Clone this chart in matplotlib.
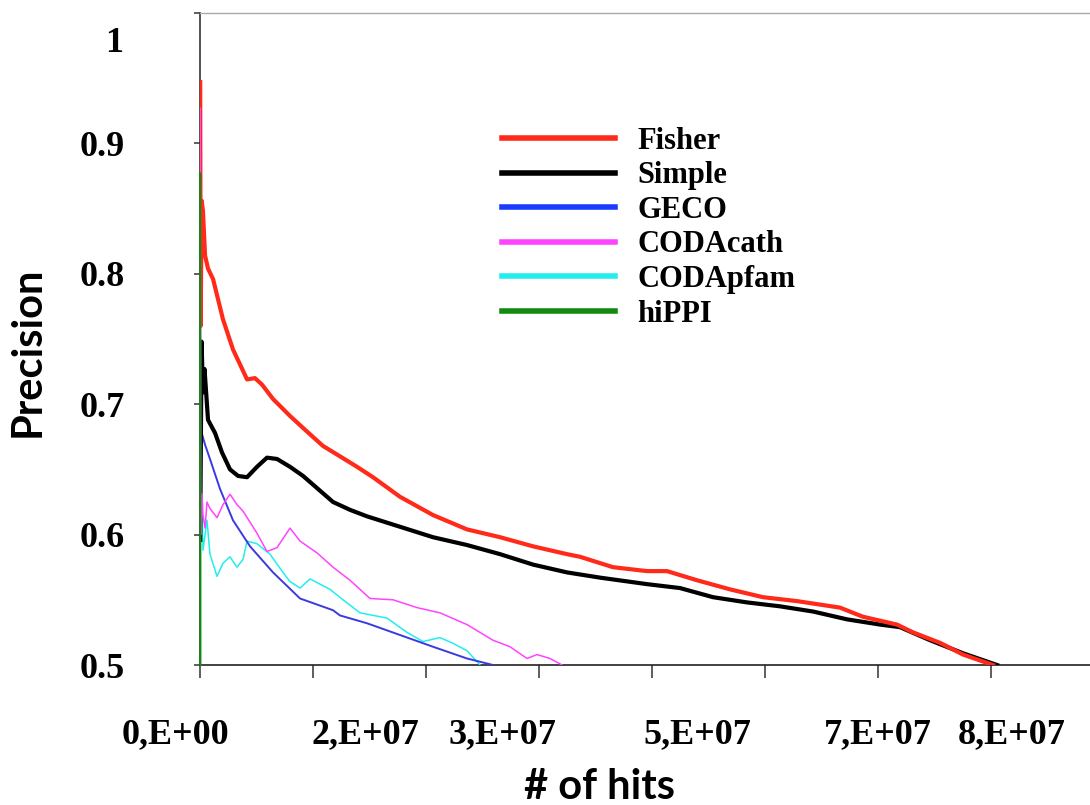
import numpy as np
import matplotlib
matplotlib.use("Agg")
import matplotlib.pyplot as plt

# number of hits in units of 1e7, precision
fisher_x = [0.002, 0.006, 0.0165, 0.029, 0.049, 0.078, 0.127, 0.224, 0.321, 0.458, 0.535, 0.604,
            0.711, 0.876, 1.042, 1.197, 1.363, 1.528, 1.684, 1.947, 2.268, 2.599, 2.921, 3.242,
            3.573, 3.699, 4.021, 4.352, 4.546, 4.838, 5.160, 5.481, 5.812, 6.230, 6.454, 6.785,
            6.941, 7.204, 7.428, 7.720]
fisher_y = [0.947, 0.760, 0.856, 0.848, 0.814, 0.804, 0.796, 0.765, 0.742, 0.719, 0.720, 0.715,
            0.704, 0.691, 0.679, 0.668, 0.660, 0.652, 0.644, 0.629, 0.615, 0.604, 0.598, 0.591,
            0.585, 0.583, 0.575, 0.572, 0.572, 0.565, 0.558, 0.552, 0.549, 0.544, 0.537, 0.531,
            0.525, 0.517, 0.508, 0.500]

simple_x = [0.002, 0.015, 0.029, 0.044, 0.078, 0.146, 0.214, 0.292, 0.370, 0.458, 0.555, 0.652,
            0.750, 0.876, 1.003, 1.295, 1.460, 1.626, 1.947, 2.268, 2.599, 2.921, 3.242, 3.573,
            3.894, 4.352, 4.673, 4.994, 5.325, 5.646, 5.968, 6.299, 6.620, 6.815, 7.107, 7.428,
            7.759]
simple_y = [0.596, 0.748, 0.709, 0.727, 0.688, 0.678, 0.663, 0.650, 0.645, 0.644, 0.652, 0.659,
            0.658, 0.652, 0.645, 0.625, 0.619, 0.614, 0.606, 0.598, 0.592, 0.585, 0.577, 0.571,
            0.567, 0.562, 0.559, 0.552, 0.548, 0.545, 0.541, 0.535, 0.531, 0.529, 0.519, 0.509,
            0.500]

geco_x = [0.0165, 0.049, 0.097, 0.195, 0.321, 0.487, 0.711, 0.974, 1.295, 1.363, 1.626, 1.947,
          2.268, 2.599, 2.852]
geco_y = [0.678, 0.669, 0.658, 0.635, 0.611, 0.591, 0.571, 0.551, 0.542, 0.538, 0.532, 0.523,
          0.514, 0.505, 0.500]

cath_x = [0.002, 0.008, 0.019, 0.029, 0.049, 0.068, 0.097, 0.166, 0.224, 0.292, 0.360, 0.419,
          0.555, 0.652, 0.750, 0.876, 0.974, 1.139, 1.295, 1.460, 1.655, 1.879, 2.113, 2.336,
          2.599, 2.852, 3.018, 3.183, 3.281, 3.407, 3.524]
cath_y = [0.927, 0.600, 0.631, 0.615, 0.605, 0.625, 0.620, 0.613, 0.623, 0.631, 0.623, 0.618,
          0.601, 0.587, 0.590, 0.605, 0.595, 0.586, 0.575, 0.565, 0.551, 0.550, 0.544, 0.540,
          0.531, 0.519, 0.514, 0.505, 0.508, 0.505, 0.500]

pfam_x = [0.005, 0.019, 0.029, 0.068, 0.097, 0.166, 0.224, 0.292, 0.360, 0.419, 0.458, 0.555,
          0.681, 0.808, 0.876, 0.974, 1.071, 1.168, 1.266, 1.392, 1.558, 1.820, 2.015, 2.171,
          2.336, 2.453, 2.599, 2.726]
pfam_y = [0.629, 0.625, 0.588, 0.611, 0.585, 0.568, 0.578, 0.583, 0.575, 0.581, 0.595, 0.593,
          0.585, 0.571, 0.564, 0.559, 0.566, 0.562, 0.558, 0.550, 0.540, 0.536, 0.525, 0.518,
          0.521, 0.517, 0.511, 0.500]

hippi_x = [0.002, 0.003, 0.004]
hippi_y = [0.877, 0.700, 0.500]

x_labels = ["0,E+00", "2,E+07", "3,E+07", "5,E+07", "7,E+07", "8,E+07"]
x_label_pos = [-0.243, 1.606, 2.94, 4.838, 6.601, 7.903]
y_ticks = [0.5, 0.6, 0.7, 0.8, 0.9, 1.0]

serif = "Liberation Serif"
sans = "Lato"

fig = plt.figure(figsize=(10.9, 8.05), dpi=100)
ax = fig.add_axes([200 / 1090, 140 / 805, 890 / 1090, 652 / 805])

E7 = 1e7
ax.plot(np.array(pfam_x) * E7, pfam_y, color="#22eeee", lw=1.1, label="CODApfam", zorder=4)
ax.plot(np.array(geco_x) * E7, geco_y, color="#3a3ae0", lw=1.4, label="GECO", zorder=4)
ax.plot(np.array(simple_x) * E7, simple_y, color="black", lw=3.0, label="Simple", zorder=5)
ax.plot(np.array(fisher_x) * E7, fisher_y, color="#ff2a1a", lw=3.0, label="Fisher", zorder=6)
ax.plot(np.array(cath_x) * E7, cath_y, color="#ff44ff", lw=1.1, label="CODAcath", zorder=7)
ax.plot(np.array(hippi_x) * E7, hippi_y, color="#128a12", lw=1.5, label="hiPPI", zorder=8, clip_on=False)

ax.set_xlim(0, 8.664 * E7)
ax.set_ylim(0.5, 1.0)

# spines like the excel chart
ax.spines["right"].set_visible(False)
ax.spines["top"].set_color("#aaaaaa")
ax.spines["top"].set_linewidth(1.0)
ax.spines["left"].set_color("#333333")
ax.spines["left"].set_linewidth(1.2)
ax.spines["bottom"].set_color("#222222")
ax.spines["bottom"].set_linewidth(1.2)

ax.set_xticks(np.arange(0, 8) * 1.1 * E7)
ax.set_xticklabels([])
ax.tick_params(axis="x", direction="out", length=9, width=1.1, color="#333333")

ax.set_yticks(y_ticks)
ax.set_yticklabels(["0.5", "0.6", "0.7", "0.8", "0.9", ""])
ax.tick_params(axis="y", direction="out", length=4, width=1.1, color="#333333", pad=50)
for t in ax.get_yticklabels():
    t.set_fontfamily(serif)
    t.set_fontweight("bold")
    t.set_fontsize(26)
ax.annotate("1", xy=(0, 1.0), xycoords="axes fraction", xytext=(-77, -30),
            textcoords="offset pixels", ha="right", va="center",
            fontfamily=serif, fontweight="bold", fontsize=26)

for lab, pos in zip(x_labels, x_label_pos):
    ax.text(pos * E7, -0.107, lab, transform=ax.get_xaxis_transform(), ha="center", va="center",
            fontfamily=serif, fontweight="bold", fontsize=26, clip_on=False)

fig.text(28 / 1090, 1 - 352 / 805, "Precision", rotation=90, ha="center", va="center",
         fontfamily=sans, fontweight="bold", fontsize=30)
fig.text(600 / 1090, 1 - 787 / 805, "# of hits", ha="center", va="center",
         fontfamily=sans, fontweight="bold", fontsize=30)

handles, labels = ax.get_legend_handles_labels()
order = ["Fisher", "Simple", "GECO", "CODAcath", "CODApfam", "hiPPI"]
hmap = dict(zip(labels, handles))
leg = ax.legend([hmap[k] for k in order], order, loc="upper left",
                bbox_to_anchor=(502 / 1090, 1 - 127 / 805), bbox_transform=fig.transFigure,
                frameon=False, prop={"family": serif, "weight": "bold", "size": 22},
                handlelength=3.7, handletextpad=0.72, labelspacing=0.18,
                borderpad=0, borderaxespad=0)
leg_colors = ["#ff2a1a", "black", "#1a3cff", "#ff44ff", "#22eeee", "#128a12"]
for line, c in zip(leg.get_lines(), leg_colors):
    line.set_linewidth(4)
    line.set_color(c)

fig.savefig("out.png", dpi=100)
